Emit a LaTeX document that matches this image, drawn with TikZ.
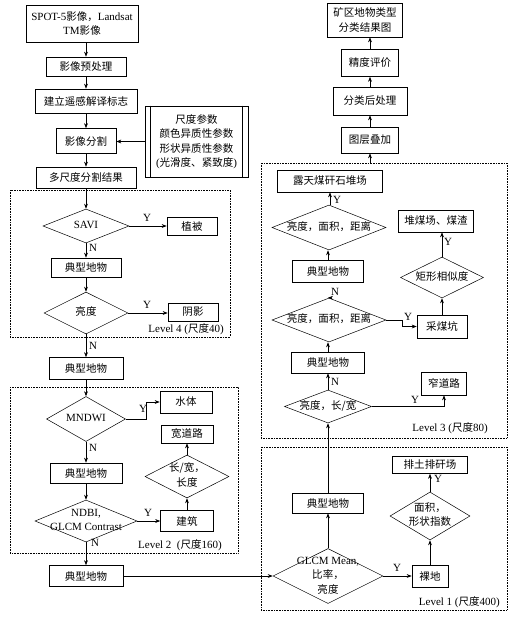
\documentclass[tikz,border=0pt]{standalone}
\usepackage{fontspec}
\setmainfont{Liberation Serif}
\newfontfamily\cjk{Noto Sans CJK SC}[Scale=0.955]
\newcommand\zhs[1]{{\cjk #1}}
\newcommand\dtext[1]{\makebox[0pt]{\raisebox{-0.5ex}[0pt][0pt]{\begin{tabular}{@{}c@{}}#1\end{tabular}}}}
\newcommand\fsz{\fontsize{11}{14.5}\selectfont}
\usetikzlibrary{arrows.meta,shapes.geometric}
\begin{document}
\begin{tikzpicture}[x=1pt,y=-1pt,
  box/.style={draw, line width=0.6pt, inner sep=0pt, align=center, font=\fsz},
  dia/.style={draw, shape=diamond, inner sep=0pt, line width=0.5pt, font=\fsz},
  lbl/.style={inner sep=1pt, font=\fsz},
  frame/.style={densely dotted, line width=0.6pt},
  arr/.style={-{Stealth[length=5pt,width=3.8pt]}, line width=0.6pt},
  ln/.style={line width=0.6pt}]
\useasboundingbox (0,0) rectangle (514,619);
% frames
\draw[frame] (10,190) rectangle (230,337);
\draw[frame] (10,387) rectangle (238,553);
\draw[frame] (261,163) rectangle (507,438);
\draw[frame] (261,447) rectangle (507,610);
\coordinate (l3top) at (370,163);
% left column
\node[box, minimum width=112pt, minimum height=37pt] (spot) at (82,23.5) {SPOT-5\zhs{影像，}Landsat\\TM\zhs{影像}};
\node[box, minimum width=80pt, minimum height=19pt] (pre) at (86,66.5) {\zhs{影像预处理}};
\node[box, minimum width=102pt, minimum height=24pt] (sign) at (86,101) {\zhs{建立遥感解译标志}};
\node[box, minimum width=60pt, minimum height=25pt] (seg) at (86,141) {\zhs{影像分割}};
\node[box, minimum width=100pt, minimum height=21pt] (multi) at (86,177.5) {\zhs{多尺度分割结果}};
\node[box, minimum width=103pt, minimum height=71pt] (param) at (196.5,141.5) {\zhs{尺度参数}\\\zhs{颜色异质性参数}\\\zhs{形状异质性参数}\\(\zhs{光滑度、紧致度})};
\draw[ln] ([xshift=6pt]param.north west) -- ([xshift=6pt]param.south west);
\draw[ln] ([xshift=-6pt]param.north east) -- ([xshift=-6pt]param.south east);
% level 4
\node[dia, minimum width=86pt, minimum height=34pt] (savi) at (86,226) {\dtext{SAVI}};
\node[box, minimum width=50pt, minimum height=18pt] (veg) at (192,226) {\zhs{植被}};
\node[box, minimum width=70pt, minimum height=19pt] (typ1) at (86,267.5) {\zhs{典型地物}};
\node[dia, minimum width=84pt, minimum height=42pt] (bright) at (86,313) {\dtext{\zhs{亮度}}};
\node[box, minimum width=50pt, minimum height=18pt] (shadow) at (193,312) {\zhs{阴影}};
\node[lbl, anchor=east] (lv4) at (225,329) {Level 4 (\zhs{尺度}40)};
\node[box, minimum width=74pt, minimum height=22pt] (typ2) at (86,368.5) {\zhs{典型地物}};
% level 2
\node[dia, minimum width=79pt, minimum height=45pt] (mndwi) at (86,419) {\dtext{MNDWI}};
\node[box, minimum width=52pt, minimum height=22pt] (water) at (186,402) {\zhs{水体}};
\node[box, minimum width=72pt, minimum height=20pt] (typ3) at (86,473) {\zhs{典型地物}};
\node[dia, minimum width=102pt, minimum height=42pt] (ndbi) at (86,521) {\dtext{NDBI,\\GLCM Contrast}};
\node[box, minimum width=53pt, minimum height=21pt] (build) at (187,521) {\zhs{建筑}};
\node[dia, minimum width=84pt, minimum height=43pt] (lw) at (187,476.5) {\dtext{\zhs{长/宽，}\\\zhs{长度}}};
\node[box, minimum width=52pt, minimum height=18pt] (wide) at (187,434) {\zhs{宽道路}};
\node[lbl, anchor=east] (lv2) at (223,545) {Level 2\ \ (\zhs{尺度}160)};
\node[box, minimum width=74pt, minimum height=21pt] (typ4) at (86,576) {\zhs{典型地物}};
% level 1
\node[dia, minimum width=110pt, minimum height=55pt] (glcm) at (328,576) {\dtext{GLCM Mean,\\\zhs{比率，}\\\zhs{亮度}}};
\node[box, minimum width=36pt, minimum height=22pt] (bare) at (430,576) {\zhs{裸地}};
\node[dia, minimum width=80pt, minimum height=48pt] (area) at (430,516) {\dtext{\zhs{面积，}\\\zhs{形状指数}}};
\node[box, minimum width=75pt, minimum height=17pt] (dump) at (430,465) {\zhs{排土排矸场}};
\node[box, minimum width=71pt, minimum height=20pt] (typ5) at (328,503) {\zhs{典型地物}};
\node[lbl, anchor=east] (lv1) at (501,602) {Level 1 (\zhs{尺度}400)};
% level 3
\node[dia, minimum width=87pt, minimum height=33pt] (lw3) at (328,406.5) {\dtext{\zhs{亮度，长/宽}}};
\node[box, minimum width=45pt, minimum height=23pt] (narrow) at (444,383.5) {\zhs{窄道路}};
\node[box, minimum width=73pt, minimum height=21pt] (typ6) at (328,362.5) {\zhs{典型地物}};
\node[dia, minimum width=114pt, minimum height=44pt] (bad2) at (329,320) {\dtext{\zhs{亮度，面积，距离}}};
\node[box, minimum width=50pt, minimum height=23pt] (pit) at (442,326.5) {\zhs{采煤坑}};
\node[dia, minimum width=83pt, minimum height=41pt] (rect) at (442,277.5) {\dtext{\zhs{矩形相似度}}};
\node[box, minimum width=75pt, minimum height=22pt] (coal) at (436,221) {\zhs{堆煤场、煤渣}};
\node[box, minimum width=71pt, minimum height=22pt] (typ7) at (328,271) {\zhs{典型地物}};
\node[dia, minimum width=114pt, minimum height=45pt] (bad1) at (329,227.5) {\dtext{\zhs{亮度，面积，距离}}};
\node[box, minimum width=105pt, minimum height=22pt] (open) at (330,181) {\zhs{露天煤矸石堆场}};
\node[lbl, anchor=east] (lv3) at (489,428) {Level 3 (\zhs{尺度}80)};
% top right
\node[box, minimum width=57pt, minimum height=26pt] (overlay) at (370,140) {\zhs{图层叠加}};
\node[box, minimum width=74pt, minimum height=28pt] (post) at (370,101) {\zhs{分类后处理}};
\node[box, minimum width=57pt, minimum height=27pt] (acc) at (370,63) {\zhs{精度评价}};
\node[box, minimum width=75pt, minimum height=34pt] (result) at (365,20) {\zhs{矿区地物类型}\\\zhs{分类结果图}};
% connectors left
\draw[arr] (spot.south -| pre.north) -- (pre.north);
\draw[arr] (pre) -- (sign);
\draw[arr] (sign) -- (seg);
\draw[arr] (seg) -- (multi);
\draw[arr] (param.west) -- (param.west -| seg.east);
\draw[arr] (multi) -- (savi);
\draw[arr] (savi) -- (typ1);
\draw[arr] (savi) -- (veg);
\draw[arr] (typ1) -- (bright);
\draw[arr] (bright.east) -- (bright.east -| shadow.west);
\draw[arr] (bright) -- (typ2);
\draw[arr] (typ2) -- (mndwi);
\draw[arr] (mndwi.east) -- ++(21,0) |- (water.west);
\draw[arr] (mndwi) -- (typ3);
\draw[arr] (typ3) -- (ndbi);
\draw[arr] (ndbi) -- (build);
\draw[arr] (build) -- (lw);
\draw[arr] (lw) -- (wide);
\draw[arr] (ndbi) -- (typ4);
\draw[arr] (typ4) -- (glcm);
% level 1
\draw[arr] (glcm) -- (bare);
\draw[arr] (bare) -- (area);
\draw[arr] (area) -- (dump);
\draw[arr] (glcm) -- (typ5);
\draw[arr] (typ5) -- (lw3);
% level 3
\draw[arr] (lw3) -- (typ6);
\draw[arr] (lw3.east) -| (narrow.south);
\draw[arr] (typ6.north) -- (typ6.north |- bad2.south);
\draw[arr] (bad2.north) -- (bad2.north -| typ7.south);
\draw[arr] (bad2.east) -- ++(16,0) |- (pit.west);
\draw[arr] (pit) -- (rect);
\draw[arr] (rect.north) -- (rect.north |- coal.south);
\draw[arr] (typ7.north) -- (typ7.north |- bad1.south);
\draw[arr] (bad1.north -| open.south) -- (open.south);
% top right
\draw[arr] (l3top) -- (overlay.south);
\draw[arr] (overlay) -- (post);
\draw[arr] (post) -- (acc);
\draw[arr] (acc.north) -- (acc.north |- result.south);
% Y/N labels
\node[lbl] (ysavi) at (147,218) {Y};
\node[lbl] (nsavi) at (93,248) {N};
\node[lbl] (ybright) at (147,305) {Y};
\node[lbl] (nbright) at (93,346) {N};
\node[lbl] (ymndwi) at (143,409) {Y};
\node[lbl] (nmndwi) at (93,448) {N};
\node[lbl] (yndbi) at (148,513) {Y};
\node[lbl] (nndbi) at (95,543) {N};
\node[lbl] (yglcm) at (397,568) {Y};
\node[lbl] (yarea) at (438,479) {Y};
\node[lbl] (ylw3) at (415,400) {Y};
\node[lbl] (nlw3) at (335,382) {N};
\node[lbl] (ybad2) at (408,317) {Y};
\node[lbl] (nbad2) at (335,292) {N};
\node[lbl] (yrect) at (448,242) {Y};
\node[lbl] (ybad1) at (337,200) {Y};
\end{tikzpicture}
\end{document}
